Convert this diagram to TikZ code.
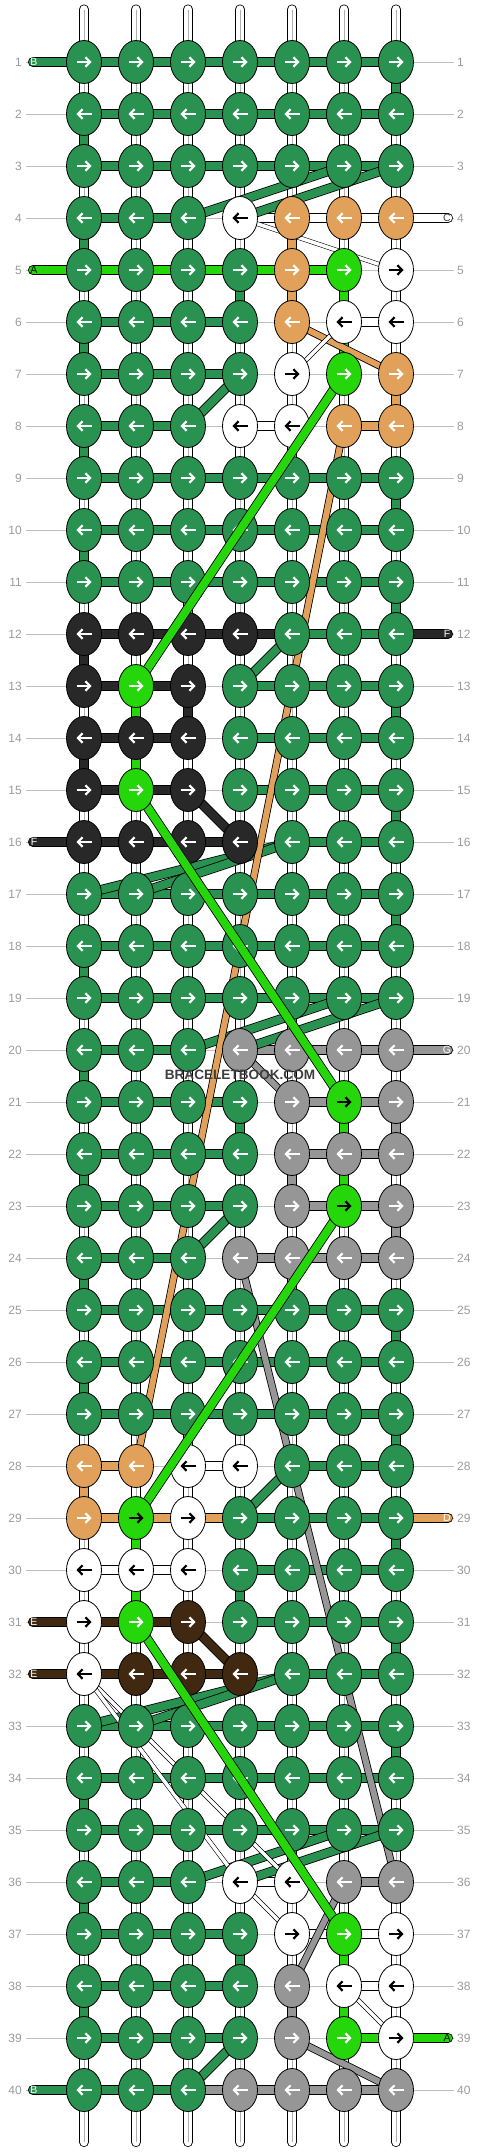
\documentclass[tikz,border=0pt]{standalone}
\usepackage{fontspec}
\setmainfont{Liberation Sans}
\usepackage{tikz}
\usetikzlibrary{shapes.geometric, arrows.meta}

\definecolor{kG}{RGB}{42,146,80}
\definecolor{kL}{RGB}{36,214,10}
\definecolor{kM}{RGB}{36,214,10}
\definecolor{kO}{RGB}{226,161,90}
\definecolor{kK}{RGB}{40,40,40}
\definecolor{kY}{RGB}{150,150,150}
\definecolor{kN}{RGB}{64,41,16}
\definecolor{kW}{RGB}{255,255,255}
\colorlet{aG}{white}
\colorlet{aL}{white}
\colorlet{aM}{black}
\colorlet{aO}{white}
\colorlet{aK}{white}
\colorlet{aY}{white}
\colorlet{aN}{white}
\colorlet{aW}{black}
\definecolor{guide}{RGB}{192,192,192}
\definecolor{labelgray}{RGB}{155,155,155}
\definecolor{midgray}{RGB}{175,175,175}
\definecolor{markgray}{RGB}{62,62,62}

\tikzset{
  knot/.style={ellipse, draw=black, line width=0.8pt, minimum width=35pt, minimum height=43pt, inner sep=0pt},
  knotarrow/.style={line width=2.2pt, -{Straight Barb[length=4.5pt,width=9.5pt]}},
  thread/.style={line width=0.8pt, double distance=8.5pt},
  diag/.style={line width=0.8pt, double distance=8pt},
  slim/.style={line width=0.8pt, double distance=6pt},
  fine/.style={line width=0.6pt, double=white, double distance=3.5pt},
  midline/.style={draw=midgray, line width=0.6pt},
  rowline/.style={draw=guide, line width=0.8pt},
  rowlabel/.style={text=labelgray, font=\fontsize{12}{12}\selectfont, inner sep=0pt},
  endlabel/.style={font=\fontsize{10.5}{10.5}\selectfont, inner sep=0pt},
}

% one knot with its arrow
\newcommand{\drawknot}[3]{%
  \node[knot, fill=k#3] (n-#1-#2) at (p-#1-#2) {};
  \ifodd#1\relax
    \draw[knotarrow, draw=a#3] ([xshift=-7.5pt]p-#1-#2) -- ([xshift=7.5pt]p-#1-#2);
  \else
    \draw[knotarrow, draw=a#3] ([xshift=7.5pt]p-#1-#2) -- ([xshift=-7.5pt]p-#1-#2);
  \fi}

% bars of one row: X = no bar
\newcommand{\barsrow}[3]{\def\rowno{#1}\def\colno{1}\barsstep#3\relax}
\def\barsstep#1{%
  \ifx#1\relax\else
    \pgfmathtruncatemacro{\nextcol}{\colno+1}%
    \if#1X\else
      \draw[thread, double=k#1] (p-\rowno-\colno) -- (p-\rowno-\nextcol);
    \fi
    \let\colno\nextcol
    \expandafter\barsstep
  \fi}

% knots of one row: light green ones come later
\newcommand{\knotsrow}[3]{\def\rowno{#1}\def\colno{1}\knotsstep#2\relax}
\def\knotsstep#1{%
  \ifx#1\relax\else
    \if#1L\else\if#1M\else
      \drawknot{\rowno}{\colno}{#1}%
    \fi\fi
    \pgfmathtruncatemacro{\colno}{\colno+1}%
    \expandafter\knotsstep
  \fi}

% row / knot colours / bar colours
\def\braidrows{%
  \patternrow{1}{GGGGGGG}{GGGGGG}%
  \patternrow{2}{GGGGGGG}{GGGGGG}%
  \patternrow{3}{GGGGGGG}{GGGGGG}%
  \patternrow{4}{GGGWOOO}{GGXWWW}%
  \patternrow{5}{GGGGOLW}{LLLLLX}%
  \patternrow{6}{GGGGOWW}{GGGXXW}%
  \patternrow{7}{GGGGWLO}{GGGXXX}%
  \patternrow{8}{GGGWWOO}{GGXWXO}%
  \patternrow{9}{GGGGGGG}{GGGGGG}%
  \patternrow{10}{GGGGGGG}{GGGGGG}%
  \patternrow{11}{GGGGGGG}{GGGGGG}%
  \patternrow{12}{KKKKGGG}{KKKKGG}%
  \patternrow{13}{KLKGGGG}{KKXGGG}%
  \patternrow{14}{KKKGGGG}{KKXGGG}%
  \patternrow{15}{KLKGGGG}{KKXGGG}%
  \patternrow{16}{KKKKGGG}{KKKXGG}%
  \patternrow{17}{GGGGGGG}{GGGGGG}%
  \patternrow{18}{GGGGGGG}{GGGGGG}%
  \patternrow{19}{GGGGGGG}{GGGGGG}%
  \patternrow{20}{GGGYYYY}{GGXYYY}%
  \patternrow{21}{GGGGYMY}{GGGXYY}%
  \patternrow{22}{GGGGYYY}{GGGXYY}%
  \patternrow{23}{GGGGYMY}{GGGXYY}%
  \patternrow{24}{GGGYYYY}{GGXYYY}%
  \patternrow{25}{GGGGGGG}{GGGGGG}%
  \patternrow{26}{GGGGGGG}{GGGGGG}%
  \patternrow{27}{GGGGGGG}{GGGGGG}%
  \patternrow{28}{OOWWGGG}{OXWXGG}%
  \patternrow{29}{OMWGGGG}{OOOGGG}%
  \patternrow{30}{WWWGGGG}{WWXGGG}%
  \patternrow{31}{WLNGGGG}{NNXGGG}%
  \patternrow{32}{WNNNGGG}{NNNXGG}%
  \patternrow{33}{GGGGGGG}{GGGGGG}%
  \patternrow{34}{GGGGGGG}{GGGGGG}%
  \patternrow{35}{GGGGGGG}{GGGGGG}%
  \patternrow{36}{GGGWWYY}{GGXWXY}%
  \patternrow{37}{GGGGWLW}{GGGXWW}%
  \patternrow{38}{GGGGYWW}{GGGXXW}%
  \patternrow{39}{GGGGYLW}{GGGXXL}%
  \patternrow{40}{GGGYYYY}{GGYYYY}}

\begin{document}
\begin{tikzpicture}[x=1pt, y=-1pt]
  \fill[white] (0,0) rectangle (480,2152);
  \useasboundingbox (0,0) rectangle (480,2152);

  % knot positions
  \foreach \r in {1,...,40}
    \foreach \i in {1,...,7}
      \coordinate (p-\r-\i) at ({32+52*\i},{10+52*\r});

  % row numbers and guide lines
  \foreach \r in {1,...,40} {
    \node[rowlabel, anchor=east] (ll-\r) at (22,{10+52*\r}) {\r};
    \node[rowlabel, anchor=west] (rl-\r) at (457,{10+52*\r}) {\r};
    \draw[rowline] ([xshift=4pt]ll-\r.east) -- ([xshift=-3pt]rl-\r.west);
  }

  % loose strings, top and bottom
  \foreach \i in {1,...,7} {
    \coordinate (top-\i) at ({32+52*\i},9.5);
    \coordinate (bot-\i) at ({32+52*\i},2142);
    \draw[thread, double=white, line cap=round] (top-\i) -- (p-1-\i);
    \draw[midline] (top-\i) -- (p-1-\i);
    \draw[thread, double=white, line cap=round] (p-40-\i) -- (bot-\i);
    \draw[midline] (p-40-\i) -- (bot-\i);
  }

  % vertical strings
  \foreach \r [evaluate=\r as \s using int(\r+1)] in {1,...,39}
    \foreach \i in {1,...,7} {
      \draw[thread, double=white] (p-\r-\i) -- (p-\s-\i);
      \draw[midline] (p-\r-\i) -- (p-\s-\i);
    }
  \foreach \i/\r/\c in {1/2/G, 1/4/G, 1/6/G, 1/8/G, 1/10/G, 1/12/K, 1/14/K, 1/18/G,
      1/20/G, 1/22/G, 1/24/G, 1/26/G, 1/28/O, 1/34/G, 1/36/G, 1/38/G,
      7/1/G, 7/7/O, 7/9/G, 7/11/G, 7/13/G, 7/15/G, 7/17/G, 7/21/Y, 7/23/Y,
      7/25/G, 7/27/G, 7/29/G, 7/31/G, 7/33/G,
      4/5/G, 5/4/O, 5/5/O, 6/5/L, 6/6/L, 2/13/L, 2/14/L, 3/13/K,
      6/21/L, 6/22/L, 4/21/G, 5/22/Y, 2/29/L, 2/30/L, 4/30/G,
      6/37/L, 6/38/L, 4/37/G, 5/38/Y} {
    \pgfmathtruncatemacro{\s}{\r+1}
    \draw[thread, double=k\c] (p-\r-\i) -- (p-\s-\i);
  }

  % horizontal strings
  \let\patternrow\barsrow
  \braidrows

  % string ends with letters
  \foreach \r/\t/\c/\tc in {1/B/G/white, 5/A/L/black, 16/F/K/white,
      31/E/N/white, 32/E/N/white, 40/B/G/white} {
    \coordinate (le-\r) at (33,{10+52*\r});
    \draw[thread, double=k\c, line cap=round] (le-\r) -- (p-\r-1);
    \node[endlabel, text=\tc] (lt-\r) at ([xshift=1pt]le-\r) {\t};
  }
  \foreach \r/\t/\c/\tc in {4/C/W/markgray, 12/F/K/white, 20/G/Y/white,
      29/D/O/white, 39/A/L/black} {
    \coordinate (re-\r) at (448,{10+52*\r});
    \draw[thread, double=k\c, line cap=round] (p-\r-7) -- (re-\r);
    \node[endlabel, text=\tc] (rt-\r) at ([xshift=-1pt]re-\r) {\t};
  }

  % strings crossing behind the knots
  \foreach \a/\b in {3-7/4-4, 3-6/4-3, 7-4/8-3, 12-5/13-4, 16-5/17-1, 16-5/17-2,
      19-7/20-4, 19-6/20-3, 23-4/24-3, 28-5/29-4, 32-5/33-1, 32-5/33-2,
      35-7/36-4, 35-6/36-3, 39-4/40-3} {
    \draw[diag, double=kG] (p-\a) -- (p-\b);
  }
  \foreach \a/\b in {20-4/21-5, 24-4/36-7, 36-6/38-5, 39-5/40-7} {
    \draw[slim, double=kY] (p-\a) -- (p-\b);
  }
  \draw[slim, double=kO] (p-6-5) -- (p-7-7);
  \draw[slim, double=kO] (p-8-6) -- (p-28-2);
  \draw[diag, double=kK] (p-15-3) -- (p-16-4);
  \draw[diag, double=kN] (p-31-3) -- (p-32-4);
  \foreach \a/\b in {4-4/5-7, 6-6/7-5, 32-1/36-5, 32-1/36-4, 36-4/37-5, 38-6/39-7} {
    \draw[fine] (p-\a) -- (p-\b);
  }

  % knots
  \let\patternrow\knotsrow
  \braidrows

  % the light green string on top
  \foreach \a/\b in {7-6/13-2, 15-2/21-6, 23-6/29-2, 31-2/37-6} {
    \draw[diag, double=kL] (p-\a) -- (p-\b);
  }
  \foreach \r/\i/\c in {5/6/L, 7/6/L, 13/2/L, 15/2/L, 21/6/M, 23/6/M,
      29/2/M, 31/2/L, 37/6/L, 39/6/L} {
    \drawknot{\r}{\i}{\c}
  }

  \node[text=markgray, font=\bfseries\fontsize{13.6}{14}\selectfont, inner sep=0pt] (mark) at (240,1075) {BRACELETBOOK.COM};
\end{tikzpicture}
\end{document}
